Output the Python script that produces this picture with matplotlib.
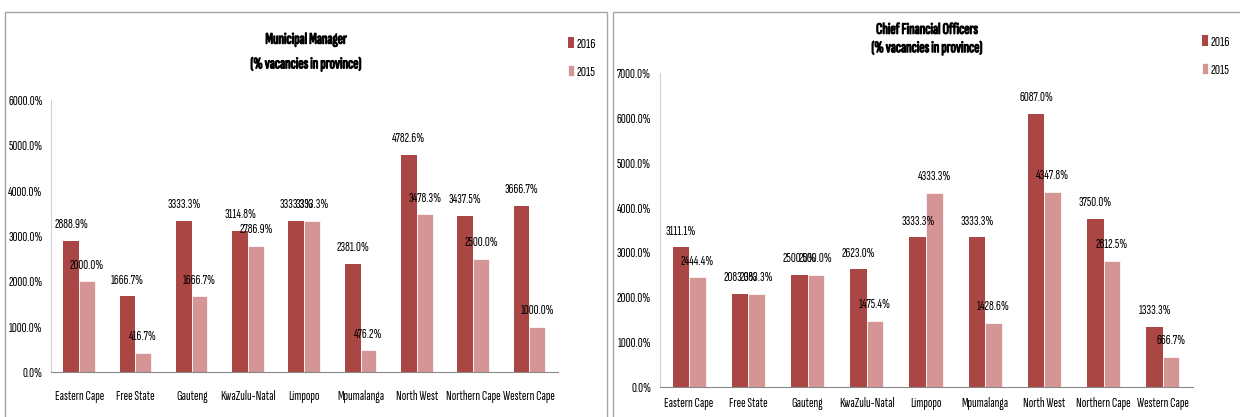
import matplotlib.pyplot as plt
import matplotlib.patches as patches
import matplotlib.patheffects as pe
import numpy as np

# Data
provinces = ["Eastern Cape", "Free State", "Gauteng", "KwaZulu-Natal", "Limpopo",
             "Mpumalanga", "North West", "Northern Cape", "Western Cape"]
mm_2016 = [2888.9, 1666.7, 3333.3, 3114.8, 3333.3, 2381.0, 4782.6, 3437.5, 3666.7]
mm_2015 = [2000.0, 416.7, 1666.7, 2786.9, 3333.3, 476.2, 3478.3, 2500.0, 1000.0]
cfo_2016 = [3111.1, 2083.3, 2500.0, 2623.0, 3333.3, 3333.3, 6087.0, 3750.0, 1333.3]
cfo_2015 = [2444.4, 2083.3, 2500.0, 1475.4, 4333.3, 1428.6, 4347.8, 2812.5, 666.7]
years = ["2016", "2015"]

c16 = '#AA4643'
c15 = '#D59594'

plt.rcParams['font.family'] = ['Sofia Sans Extra Condensed', 'Liberation Sans', 'DejaVu Sans']
FS = 9.8

W, H = 1240, 417
fig = plt.figure(figsize=(W / 100, H / 100), dpi=100)

# panel borders
for x0, x1 in [(5, 607), (613, 1260)]:
    fig.patches.append(patches.Rectangle((x0 / W, -0.1), (x1 - x0) / W, 1 - 12 / H + 0.1,
                                         transform=fig.transFigure, fill=False,
                                         edgecolor='#A6A6A6', linewidth=1.0))


def panel(rect, v16, v15, ymax, title, tcx, tcy, lsp, leg_xy, xpad):
    ax = fig.add_axes(rect)
    x = np.arange(len(provinces))
    w = 0.28
    b1 = ax.bar(x - w / 2, v16, w, color=c16, label=years[0])
    b2 = ax.bar(x + w / 2, v15, w, color=c15, edgecolor='white', linewidth=0.5, label=years[1])
    for bars, vals in [(b1, v16), (b2, v15)]:
        for b, v in zip(bars, vals):
            ax.annotate(f"{v:.1f}%", (b.get_x() + b.get_width() / 2, v),
                        xytext=(0, 7), textcoords='offset points',
                        ha='center', va='bottom', fontsize=FS)
    ax.set_xlim(-0.5, len(provinces) - 0.5)
    ax.set_ylim(0, ymax)
    ticks = np.arange(0, ymax + 1, 1000)
    ax.set_yticks(ticks)
    ax.set_yticklabels([f"{t:.1f}%" for t in ticks], fontsize=FS)
    ax.set_xticks(x)
    ax.set_xticklabels(provinces, fontsize=FS)
    ax.tick_params(axis='y', length=0, pad=6)
    ax.tick_params(axis='x', length=0, pad=xpad)
    for s in ['top', 'right']:
        ax.spines[s].set_visible(False)
    ax.spines['left'].set_color('#D0D0D0')
    ax.spines['bottom'].set_color('#888888')
    fig.text(tcx / W, 1 - tcy / H, title, ha='center', va='center',
             fontsize=11.5, linespacing=lsp,
             path_effects=[pe.withStroke(linewidth=0.8, foreground='black')])
    ax.legend(loc='upper left', bbox_to_anchor=(leg_xy[0] / W, 1 - leg_xy[1] / H),
              bbox_transform=fig.transFigure, frameon=False, fontsize=10.5,
              handlelength=0.4, handleheight=0.8, handletextpad=0.2,
              labelspacing=1.0, borderpad=0, borderaxespad=0)
    return ax


panel([51 / W, 1 - 372 / H, (557.5 - 51) / W, 272 / H], mm_2016, mm_2015, 6000,
      "Municipal Manager\n(% vacancies in province)", 306, 52, 1.9, (568, 37), 13)
panel([659.5 / W, 1 - 387 / H, (1192.5 - 659.5) / W, 314 / H], cfo_2016, cfo_2015, 7000,
      "Chief Financial Officers\n(% vacancies in province)", 927, 39, 1.35, (1202, 35), 7)

fig.savefig("out.png", dpi=100)
